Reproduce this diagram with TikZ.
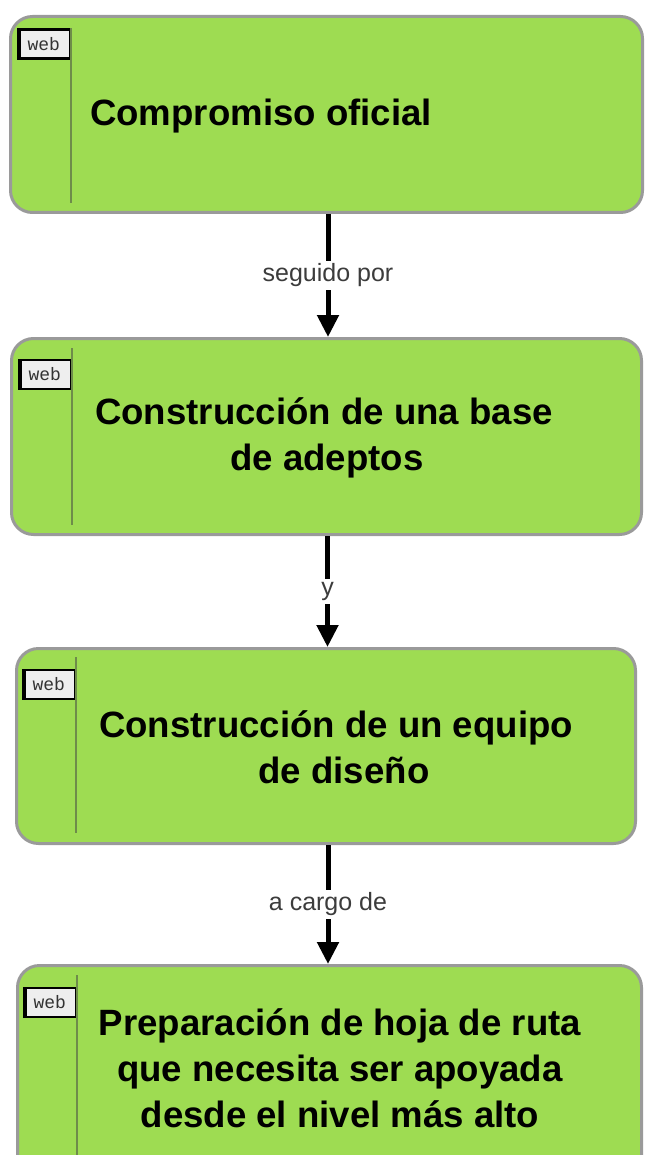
\documentclass[tikz,border=0pt]{standalone}
\usepackage{fontspec}
\setmainfont{Liberation Sans}
\setmonofont{Liberation Mono}
\usetikzlibrary{arrows.meta,positioning}
\definecolor{topicgreen}{HTML}{9EDC52}
\definecolor{topicborder}{HTML}{9A9A9A}
\definecolor{splitline}{HTML}{6E8C4A}
\definecolor{labelgray}{HTML}{3C3C3C}
\definecolor{tagfill}{HTML}{EEEEEE}
\tikzset{
  topic/.style={draw=topicborder, line width=3pt, fill=topicgreen, rounded corners=22pt, inner sep=0pt},
  topictext/.style={align=center, inner sep=0pt, font=\fontsize{36.6}{46}\selectfont\bfseries},
  webtag/.style={draw=black, line width=2.5pt, fill=tagfill, text=black!80, minimum width=52pt, minimum height=29pt, inner sep=0pt, anchor=north west,
    font=\fontsize{18}{20}\selectfont\ttfamily,
    path picture={\draw[line width=6pt] (path picture bounding box.north west) -- (path picture bounding box.south west);}},
  splitter/.style={draw=splitline, line width=1.3pt},
  flow/.style={line width=5pt, -{Triangle[width=21pt,length=22pt]}},
  linklabel/.style={fill=white, text=labelgray, inner sep=3pt, font=\fontsize{25}{30}\selectfont}
}
\begin{document}
\begin{tikzpicture}[x=1pt, y=-1pt]
  \clip (0,0) rectangle (645,1155);
  % topics
  \node[topic, minimum width=632pt, minimum height=196pt] (b1) at (326.5,114.5) {};
  \node[topic, minimum width=630pt, minimum height=196pt] (b2) at (326.5,436.5) {};
  \node[topic, minimum width=619pt, minimum height=195pt] (b3) at (326,746) {};
  \node[topic, minimum width=624pt, minimum height=220pt] (b4) at (329.5,1075.5) {};
  % web tags and split lines
  \node[webtag] (w1) at ([xshift=7.5pt,yshift=-13.5pt]b1.north west) {web};
  \node[webtag] (w2) at ([xshift=7.5pt,yshift=-21.5pt]b2.north west) {web};
  \node[webtag] (w3) at ([xshift=6.5pt,yshift=-21.5pt]b3.north west) {web};
  \node[webtag] (w4) at ([xshift=6.5pt,yshift=-22.5pt]b4.north west) {web};
  \draw[splitter] (w1.north east) -- (w1.north east |- 0,203);
  \draw[splitter] (w2.north east |- 0,348) -- (w2.north east |- 0,525);
  \draw[splitter] (w3.north east |- 0,657) -- (w3.north east |- 0,833);
  \draw[splitter] (w4.north east |- 0,975) -- (w4.north east |- 0,1160);
  % texts
  \node[topictext] (t1) at (261,116) {Compromiso oficial};
  \node[topictext] (t2) at (324,438) {Construcción de una base\\\hspace*{6pt}de adeptos};
  \node[topictext] (t3) at (336,747) {Construcción de un equipo\\\hspace*{16pt}de diseño};
  \node[topictext] (t4) at (340,1068) {Preparación de hoja de ruta\\que necesita ser apoyada\\desde el nivel más alto};
  % links
  \draw[flow] ([xshift=1.5pt]b1.south) -- ([xshift=1.5pt]b2.north) node[linklabel, midway] (l1) {seguido por};
  \draw[flow] ([xshift=1pt]b2.south) -- ([xshift=1pt]b2.south |- b3.north) node[linklabel, midway] (l2) {y};
  \draw[flow] ([xshift=2pt]b3.south) -- ([xshift=2pt]b3.south |- b4.north) node[linklabel, midway] (l3) {a cargo de};
\end{tikzpicture}
\end{document}
